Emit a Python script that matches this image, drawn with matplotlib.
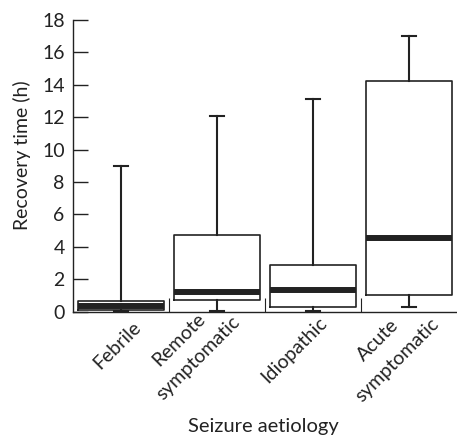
import matplotlib
matplotlib.use("Agg")
import matplotlib.pyplot as plt
import matplotlib.transforms as mtransforms

categories = ["Febrile", "Remote\nsymptomatic", "Idiopathic", "Acute\nsymptomatic"]
medians = [0.33, 1.2, 1.36, 4.57]
q1 = [0.12, 0.72, 0.31, 1.05]
q3 = [0.66, 4.73, 2.88, 14.26]
whis_lo = [0.06, 0.06, 0.05, 0.29]
whis_hi = [9.0, 12.1, 13.13, 17.04]
yticks = [0, 2, 4, 6, 8, 10, 12, 14, 16, 18]

plt.rcParams['font.family'] = ['Lato', 'DejaVu Sans']
col = '#222222'

fig = plt.figure(figsize=(4.57, 4.36), dpi=100)
ax = fig.add_axes([73/457, 1-311.7/436, 1-73/457, (311.7-20)/436])

stats = []
for i, c in enumerate(categories):
    stats.append(dict(label=c, med=medians[i], q1=q1[i], q3=q3[i],
                      whislo=whis_lo[i], whishi=whis_hi[i], fliers=[]))

ax.bxp(stats, positions=range(len(categories)), widths=0.9, showfliers=False,
       boxprops=dict(color=col, linewidth=1.2),
       medianprops=dict(color=col, linewidth=4.3, solid_capstyle='butt'),
       whiskerprops=dict(color=col, linewidth=1.5),
       capprops=dict(color=col, linewidth=1.5),
       capwidths=0.15)

ax.set_xlim(-0.5, 3.5)
ax.set_ylim(0, 18)
ax.set_yticks(yticks)
ax.tick_params(axis='y', direction='in', length=11, width=1, color=col,
               labelsize=14, pad=6, labelcolor=col)
ax.set_xticks(range(len(categories)))
ax.set_xticklabels(categories, rotation=45, ha='right', va='top',
                   rotation_mode='anchor', fontsize=14, color=col,
                   multialignment='center', linespacing=1.7)
ax.tick_params(axis='x', which='major', length=0, pad=0)
label_shift_px = [(11, -6.3), (-5, 17.4), (5, -2.3), (2, 16.0)]
for lab, (dx, dy) in zip(ax.get_xticklabels(), label_shift_px):
    lab.set_transform(lab.get_transform() +
                      mtransforms.ScaledTranslation(dx/100, dy/100, fig.dpi_scale_trans))
ax.set_xticks([0.5, 1.5, 2.5], minor=True)
ax.tick_params(axis='x', which='minor', direction='in', length=10, width=0.8, color=col)

for s in ['top', 'right']:
    ax.spines[s].set_visible(False)
for s in ['left', 'bottom']:
    ax.spines[s].set_color(col)
    ax.spines[s].set_linewidth(1.0)

ax.set_ylabel("Recovery time (h)", fontsize=14, color=col)
ax.yaxis.set_label_coords(-0.11, 0.535)
fig.text(263.5/457, 1-432/436, "Seizure aetiology", fontsize=14.5, color=col,
         ha='center', va='baseline')

fig.savefig("out.png", dpi=100)
